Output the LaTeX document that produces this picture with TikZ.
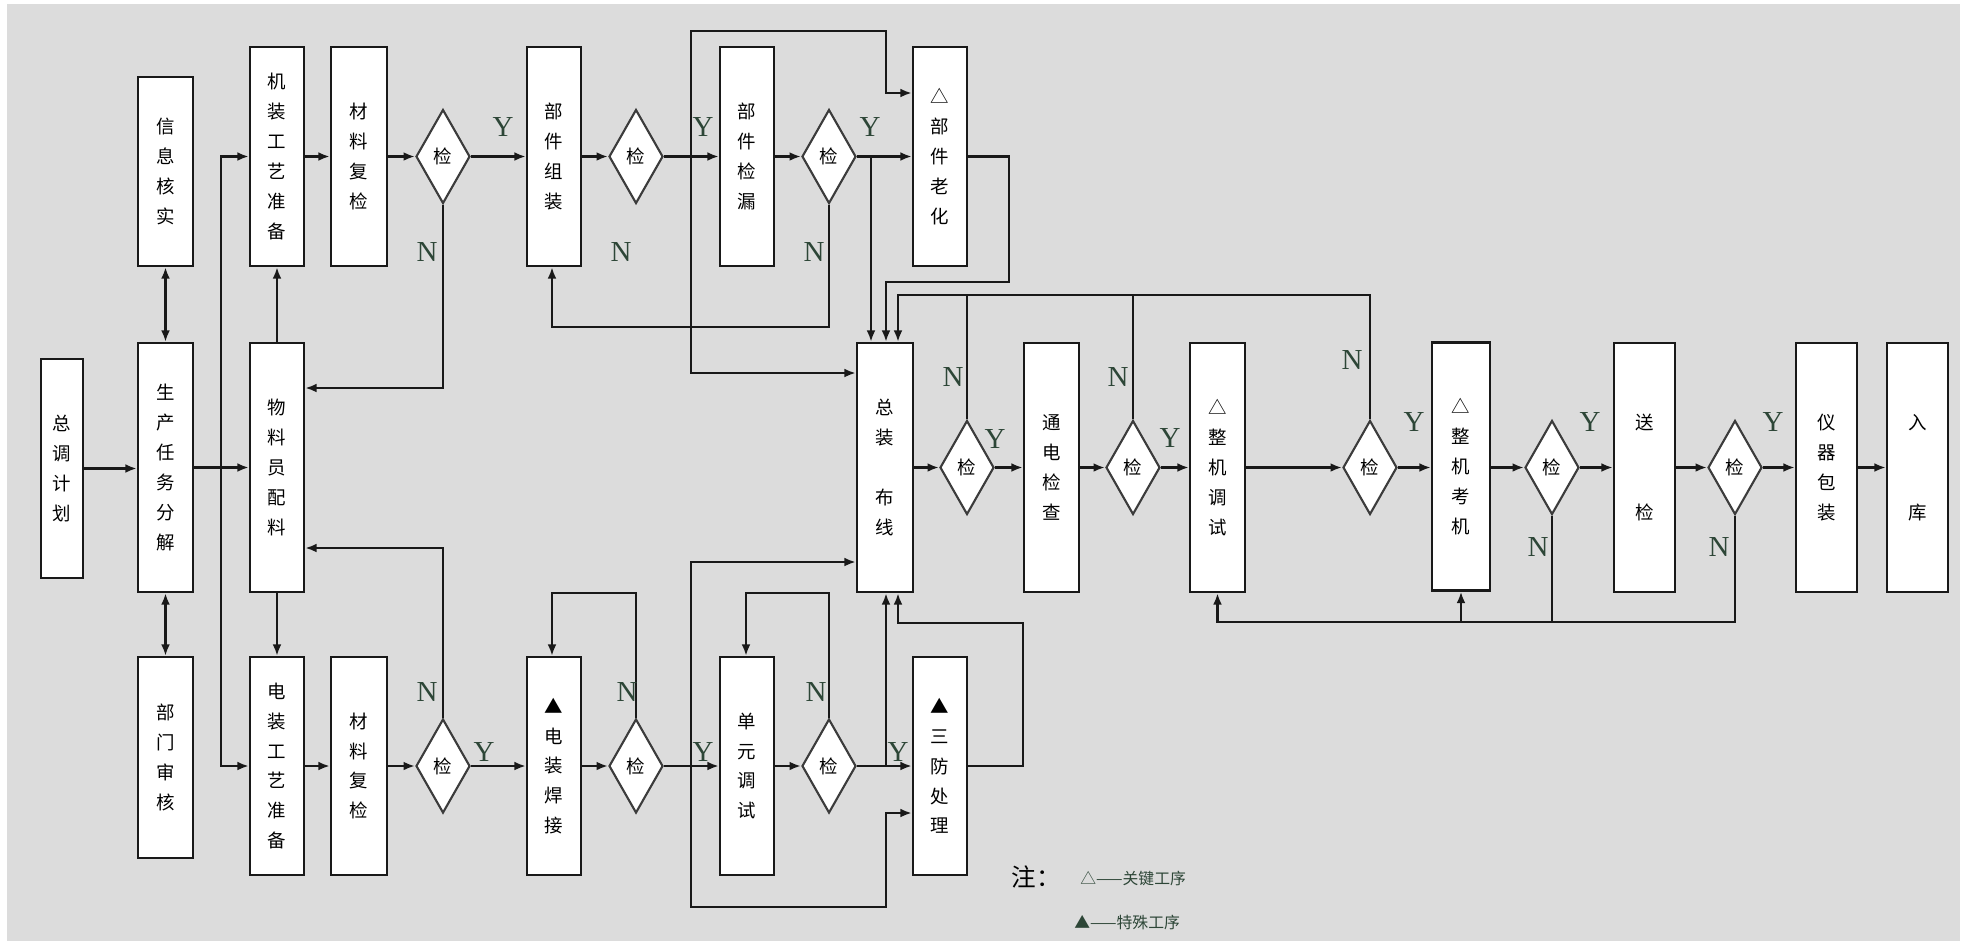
\documentclass[tikz,border=0pt]{standalone}
\usepackage{fontspec}
\setmainfont{Liberation Serif}
\newfontfamily\cjk{Noto Sans CJK SC}
\usetikzlibrary{shapes.geometric,arrows.meta}
\definecolor{bg}{RGB}{220,220,220}
\definecolor{lbl}{RGB}{45,70,55}
\definecolor{ln}{RGB}{25,25,25}
\begin{document}
\begin{tikzpicture}[x=0.02cm,y=-0.02cm,
  box/.style={draw=ln,fill=white,line width=1.3pt,inner sep=0pt,align=center,
    font=\cjk\fontsize{10.5pt}{17pt}\selectfont},
  dia/.style={diamond,draw=ln!85,fill=white,line width=1.2pt,inner sep=0pt,
    minimum width=1.08cm,minimum height=1.88cm,font=\cjk\fontsize{10.5pt}{12pt}\selectfont},
  arr/.style={-{Latex[length=6.5pt,width=5pt]},line width=1.3pt,draw=ln},
  darr/.style={{Latex[length=6.5pt,width=5pt]}-{Latex[length=6.5pt,width=5pt]},line width=1.3pt,draw=ln},
  con/.style={line width=1.3pt,draw=ln},
  yn/.style={text=lbl,font=\fontsize{16.5pt}{16.5pt}\selectfont,inner sep=0pt},
  note/.style={text=lbl,font=\cjk\fontsize{9pt}{10pt}\selectfont,inner sep=0pt,anchor=west}]
\useasboundingbox (0,0) rectangle (1968,941);
\fill[white] (0,0) rectangle (1968,941);
\fill[bg] (7,4) rectangle (1960,941);

% boxes
\node[box,minimum width=0.84cm,minimum height=4.38cm] (zt) at (62,468.5) {总\\调\\计\\划};
\node[box,minimum width=1.10cm,minimum height=4.98cm] (sc) at (165.5,467.5) {生\\产\\任\\务\\分\\解};
\node[box,minimum width=1.10cm,minimum height=3.78cm] (xx) at (165.5,171.5) {信\\息\\核\\实};
\node[box,minimum width=1.10cm,minimum height=4.02cm] (bm) at (165.5,757.5) {部\\门\\审\\核};
\node[box,minimum width=1.08cm,minimum height=4.38cm] (jz) at (277,156.5) {机\\装\\工\\艺\\准\\备};
\node[box,minimum width=1.12cm,minimum height=4.38cm] (cl1) at (359,156.5) {材\\料\\复\\检};
\node[box,minimum width=1.08cm,minimum height=4.98cm] (wl) at (277,467.5) {物\\料\\员\\配\\料};
\node[box,minimum width=1.08cm,minimum height=4.36cm] (dz) at (277,766) {电\\装\\工\\艺\\准\\备};
\node[box,minimum width=1.12cm,minimum height=4.36cm] (cl2) at (359,766) {材\\料\\复\\检};
\node[box,minimum width=1.08cm,minimum height=4.38cm] (bj) at (554,156.5) {部\\件\\组\\装};
\node[box,minimum width=1.08cm,minimum height=4.36cm] (dh) at (554,766) {▲\\电\\装\\焊\\接};
\node[box,minimum width=1.08cm,minimum height=4.38cm] (jl) at (747,156.5) {部\\件\\检\\漏};
\node[box,minimum width=1.08cm,minimum height=4.36cm] (dy) at (747,766) {单\\元\\调\\试};
\node[box,minimum width=1.08cm,minimum height=4.38cm] (lh) at (940,156.5) {△\\部\\件\\老\\化};
\node[box,minimum width=1.08cm,minimum height=4.36cm] (sf) at (940,766) {▲\\三\\防\\处\\理};
\node[box,minimum width=1.12cm,minimum height=4.98cm] (zz) at (885,467.5) {总\\装\\~\\布\\线};
\node[box,minimum width=1.10cm,minimum height=4.98cm] (td) at (1051.5,467.5) {通\\电\\检\\查};
\node[box,minimum width=1.10cm,minimum height=4.98cm] (ts) at (1217.5,467.5) {△\\整\\机\\调\\试};
\node[box,minimum width=1.16cm,minimum height=4.96cm] (kj) at (1461,466.5) {△\\整\\机\\考\\机};
\node[box,minimum width=1.22cm,minimum height=4.98cm] (sj) at (1644.5,467.5) {送\\~\\~\\检};
\node[box,minimum width=1.22cm,minimum height=4.98cm] (bz) at (1826.5,467.5) {仪\\器\\包\\装};
\node[box,minimum width=1.22cm,minimum height=4.98cm] (rk) at (1917.5,467.5) {入\\~\\~\\库};

% diamonds
\node[dia] (d1) at (443,156.5) {检};
\node[dia] (d2) at (636,156.5) {检};
\node[dia] (d3) at (829,156.5) {检};
\node[dia] (d4) at (443,766) {检};
\node[dia] (d5) at (636,766) {检};
\node[dia] (d6) at (829,766) {检};
\node[dia] (d7) at (967,467.5) {检};
\node[dia] (d8) at (1133,467.5) {检};
\node[dia] (d9) at (1370,467.5) {检};
\node[dia] (d10) at (1552,467.5) {检};
\node[dia] (d11) at (1735,467.5) {检};

% junction coordinates
\coordinate (bus) at (221,467.5);
\coordinate (ja) at (691,156.5);
\coordinate (jb) at (691,766);
\coordinate (jc) at (871,156.5);
\coordinate (jd) at (886,766);

% left part
\draw[arr] (zt.east) -- (sc.west |- zt.east);
\draw[arr] (sc.east) -- (wl.west);
\draw[darr] (sc.north) -- (xx.south);
\draw[darr] (sc.south) -- (bm.north);
\draw[arr] (bus) -- (221,156.5) -- (jz.west);
\draw[arr] (bus) -- (221,766) -- (dz.west);
\draw[arr] (wl.north) -- (jz.south);
\draw[arr] (wl.south) -- (dz.north);

% top row
\draw[arr] (jz) -- (cl1);
\draw[arr] (cl1) -- (d1);
\draw[arr] (d1) -- (bj);
\draw[arr] (bj) -- (d2);
\draw[arr] (d2) -- (jl);
\draw[arr] (jl) -- (d3);
\draw[arr] (d3) -- (lh);
\draw[arr] (d1.south) -- (d1.south |- 0,388) -- (wl.east |- 0,388);
\draw[arr] (d3.south) -- (d3.south |- 0,327) -- (552,327) -- (552,0 |- bj.south);
\draw[arr] (ja) -- (691,31) -- (886,31) -- (886,93) -- (lh.west |- 0,93);
\draw[arr] (ja) -- (691,373) -- (zz.west |- 0,373);
\draw[arr] (jc) -- (jc |- zz.north);
\draw[arr] (lh.east) -- (1009,156.5) -- (1009,282) -- (886,282) -- (886,0 |- zz.north);
\draw[arr] (d9.north) -- (d9.north |- 0,295) -- (898,295) -- (898,0 |- zz.north);
\draw[con] (d7.north) -- (d7.north |- 0,295);
\draw[con] (d8.north) -- (d8.north |- 0,295);

% middle flow
\draw[arr] (zz) -- (d7);
\draw[arr] (d7) -- (td);
\draw[arr] (td) -- (d8);
\draw[arr] (d8) -- (ts);
\draw[arr] (ts) -- (d9);
\draw[arr] (d9) -- (kj.west |- d9);
\draw[arr] (kj.east |- d10) -- (d10);
\draw[arr] (d10) -- (sj);
\draw[arr] (sj) -- (d11);
\draw[arr] (d11) -- (bz);
\draw[arr] (bz) -- (rk);
\draw[con] (d10.south) -- (d10.south |- 0,622);
\draw[arr] (d11.south) -- (d11.south |- 0,622) -- (ts.south |- 0,622) -- (ts.south);
\draw[arr] (kj.south |- 0,622) -- (kj.south);

% bottom row
\draw[arr] (dz) -- (cl2);
\draw[arr] (cl2) -- (d4);
\draw[arr] (d4) -- (dh);
\draw[arr] (dh) -- (d5);
\draw[arr] (d5) -- (dy);
\draw[arr] (dy) -- (d6);
\draw[arr] (d6) -- (sf);
\draw[arr] (d4.north) -- (d4.north |- 0,548) -- (wl.east |- 0,548);
\draw[arr] (d5.north) -- (d5.north |- 0,593) -- (552,593) -- (552,0 |- dh.north);
\draw[arr] (d6.north) -- (d6.north |- 0,593) -- (746,593) -- (746,0 |- dy.north);
\draw[arr] (jb) -- (691,562) -- (zz.west |- 0,562);
\draw[arr] (jb) -- (691,907) -- (886,907) -- (886,813) -- (sf.west |- 0,813);
\draw[arr] (jd) -- (jd |- zz.south);
\draw[arr] (sf.east) -- (1023,766) -- (1023,623) -- (898,623) -- (898,0 |- zz.south);

% Y / N labels
\node[yn] (y1) at (503,127) {Y};
\node[yn] (y2) at (703,127) {Y};
\node[yn] (y3) at (870,127) {Y};
\node[yn] (y4) at (484,752) {Y};
\node[yn] (y5) at (703,752) {Y};
\node[yn] (y6) at (898,752) {Y};
\node[yn] (y7) at (995,439) {Y};
\node[yn] (y8) at (1170,438) {Y};
\node[yn] (y9) at (1414,422) {Y};
\node[yn] (y10) at (1590,422) {Y};
\node[yn] (y11) at (1773,422) {Y};
\node[yn] (n1) at (427,252) {N};
\node[yn] (n2) at (621,252) {N};
\node[yn] (n3) at (814,252) {N};
\node[yn] (n4) at (427,692) {N};
\node[yn] (n5) at (627,692) {N};
\node[yn] (n6) at (816,692) {N};
\node[yn] (n7) at (953,377) {N};
\node[yn] (n8) at (1118,377) {N};
\node[yn] (n9) at (1352,360) {N};
\node[yn] (n10) at (1538,547) {N};
\node[yn] (n11) at (1719,547) {N};

% legend
\node[font=\cjk\fontsize{14pt}{15pt}\selectfont,inner sep=0pt] (zhu) at (1036,877) {注：};
\node[note] (lg1) at (1080,878) {△——关键工序};
\node[note] (lg2) at (1074,922) {▲——特殊工序};
\end{tikzpicture}
\end{document}
